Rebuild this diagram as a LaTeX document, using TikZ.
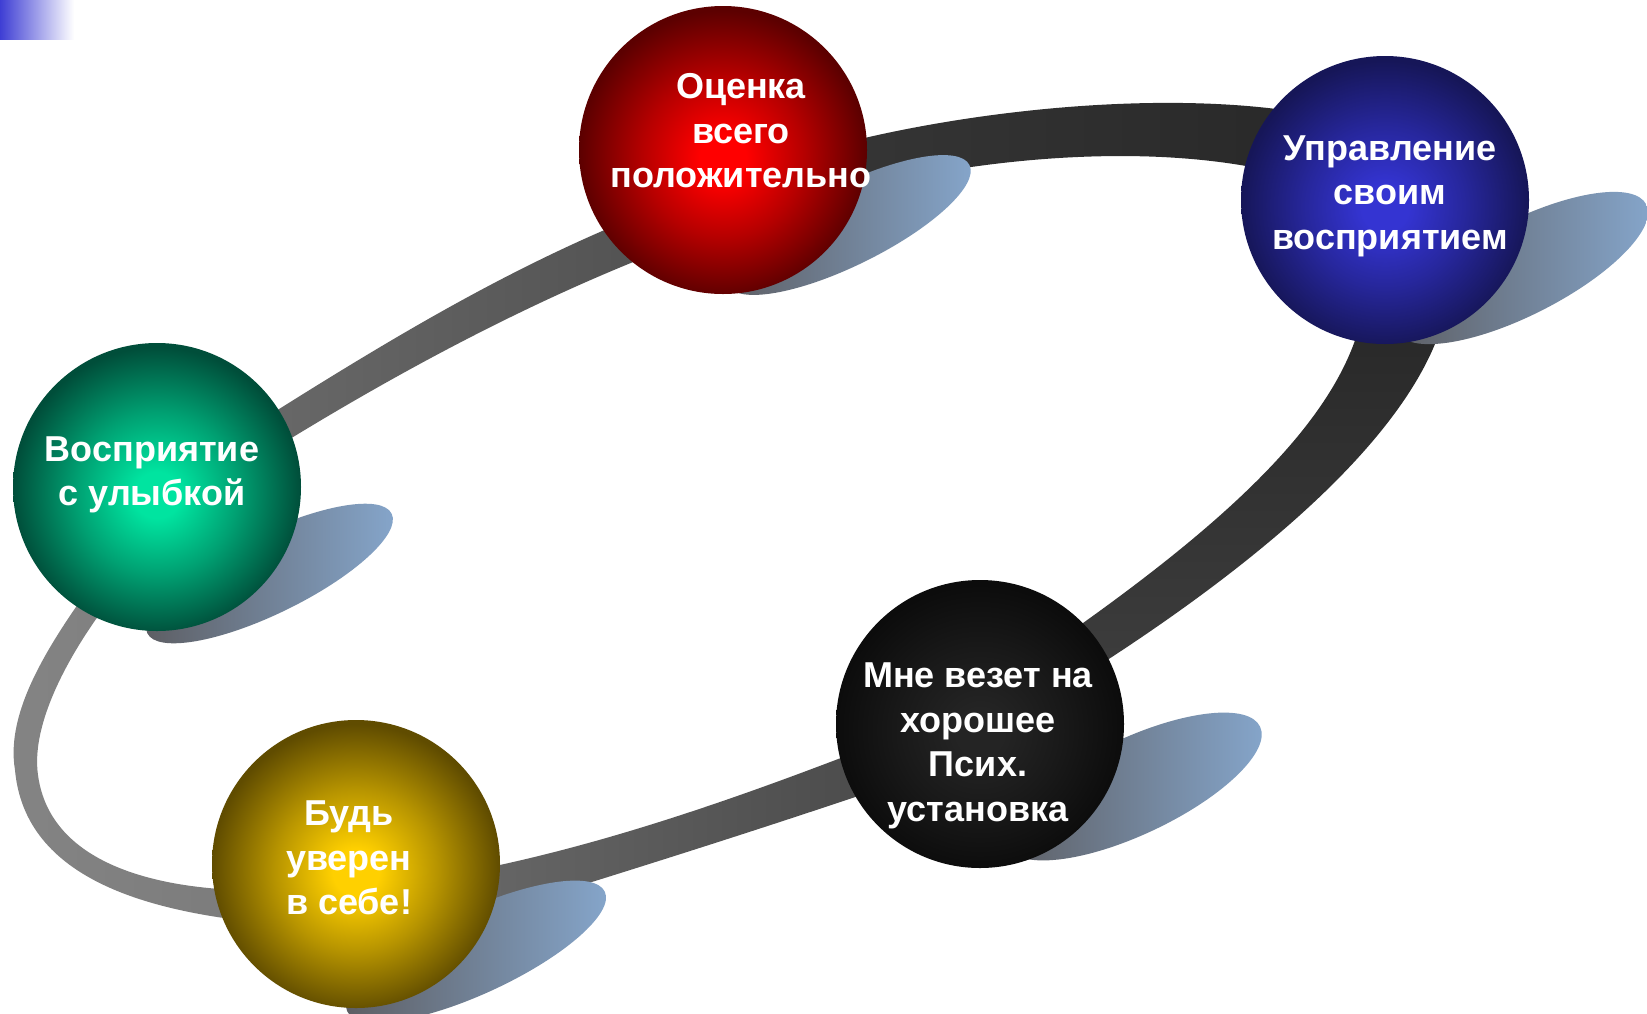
\documentclass[tikz,border=0pt]{standalone}
\usepackage{fontspec}
\setmainfont{Liberation Sans}
\definecolor{redin}{RGB}{255,0,0}\definecolor{redout}{RGB}{92,0,0}
\definecolor{bluein}{RGB}{52,52,210}\definecolor{blueout}{RGB}{22,22,88}
\definecolor{greenin}{RGB}{0,228,160}\definecolor{greenout}{RGB}{0,78,58}
\definecolor{yelin}{RGB}{255,208,0}\definecolor{yelout}{RGB}{96,76,0}
\definecolor{blkin}{RGB}{36,36,36}\definecolor{blkout}{RGB}{12,12,12}
\definecolor{shd}{RGB}{92,92,96}\definecolor{shl}{RGB}{134,167,205}
\definecolor{corner}{RGB}{62,62,212}
\definecolor{gE1}{RGB}{132,132,132}\definecolor{gE2}{RGB}{122,122,122}
\definecolor{gA1}{RGB}{106,106,106}\definecolor{gA2}{RGB}{80,80,80}
\definecolor{gB1}{RGB}{54,54,54}\definecolor{gB2}{RGB}{40,40,40}
\definecolor{gC1}{RGB}{38,38,38}\definecolor{gC2}{RGB}{62,62,62}
\definecolor{gD1}{RGB}{106,106,106}\definecolor{gD2}{RGB}{72,72,72}
\colorlet{sphin}{red}\colorlet{sphout}{black}
\pgfdeclareradialshading[sphin,sphout]{sph}{\pgfpoint{0bp}{-1.5bp}}{color(0bp)=(sphin); color(4bp)=(sphin); color(14bp)=(sphin!55!sphout); color(25bp)=(sphout); color(50bp)=(sphout)}
\tikzset{
  ball/.style 2 args={circle, minimum size=288pt, inner sep=0pt, draw=none,
    /utils/exec={\colorlet{sphin}{#1}\colorlet{sphout}{#2}}, shade, shading=sph},
  lbl/.style={text=white, font=\fontsize{36}{44.5}\selectfont\bfseries, align=center, inner sep=0pt},
  shadowfill/.style={left color=shd, right color=shl},
}
\begin{document}
\begin{tikzpicture}[x=1pt, y=-1pt]
\useasboundingbox (0,0) rectangle (1647,1013);
\fill[white] (0,0) rectangle (1647,1013);
% corner gradient
\shade[left color=corner, right color=white] (0,0) rectangle (74,39);
% band segments
% left loop (green -> yellow)
\shade[left color=gE1, right color=gE2]
  (110,560) .. controls (50,640) and (5,710) .. (15,770)
  .. controls (25,880) and (150,915) .. (290,925)
  -- (290,890) .. controls (160,895) and (50,865) .. (38,775)
  .. controls (30,720) and (75,640) .. (130,575) -- cycle;
% green -> red
\shade[left color=gA1, right color=gA2]
  (230,440) .. controls (380,345) and (520,258) .. (680,200)
  -- (690,240) .. controls (540,295) and (390,375) .. (240,470) -- cycle;
% red -> blue
\shade[left color=gB1, right color=gB2]
  (800,155) .. controls (950,110) and (1180,85) .. (1330,118)
  -- (1320,185) .. controls (1180,135) and (960,155) .. (800,205) -- cycle;
% blue -> black
\shade[top color=gC1, bottom color=gC2]
  (1450,280) .. controls (1445,410) and (1270,560) .. (1060,690)
  -- (1030,660) .. controls (1235,520) and (1350,410) .. (1365,300) -- cycle;
% black -> yellow
\shade[left color=gD1, right color=gD2]
  (900,735) .. controls (740,798) and (580,855) .. (420,880)
  -- (420,935) .. controls (600,880) and (760,830) .. (920,775) -- cycle;
% shadows
\begin{scope}[shift={(848.5,225)}, rotate=26.4]
  \shade[shadowfill] (0,0) ellipse [x radius=135, y radius=40];
\end{scope}
\begin{scope}[shift={(1521.5,268)}, rotate=27]
  \shade[shadowfill] (0,0) ellipse [x radius=140, y radius=47];
\end{scope}
\begin{scope}[shift={(269.5,573.5)}, rotate=26.1]
  \shade[shadowfill] (0,0) ellipse [x radius=136, y radius=40];
\end{scope}
\begin{scope}[shift={(1133.5,786.5)}, rotate=25.3]
  \shade[shadowfill] (0,0) ellipse [x radius=140, y radius=48];
\end{scope}
\begin{scope}[shift={(476,951.5)}, rotate=24.9]
  \shade[shadowfill] (0,0) ellipse [x radius=142, y radius=42];
\end{scope}
% spheres
\node[ball={redin}{redout}] (red) at (723,150) {};
\node[ball={bluein}{blueout}] (blue) at (1385,200) {};
\node[ball={greenin}{greenout}] (green) at (157,487) {};
\node[ball={blkin}{blkout}] (blk) at (980,724) {};
\node[ball={yelin}{yelout}] (yel) at (356,864) {};
% labels
\node[lbl] (tred) at (741,131) {Оценка\\всего\\положительно};
\node[lbl] (tblue) at (1390,196) {Управление\\своим\\восприятием};
\node[lbl] (tgreen) at (152,475) {Восприятие\\с улыбкой};
\node[lbl] (tblk) at (978,746) {Мне везет на\\хорошее\\Псих.\\установка};
\node[lbl] (tyel) at (349,858) {Будь\\уверен\\в себе!};
\end{tikzpicture}
\end{document}
